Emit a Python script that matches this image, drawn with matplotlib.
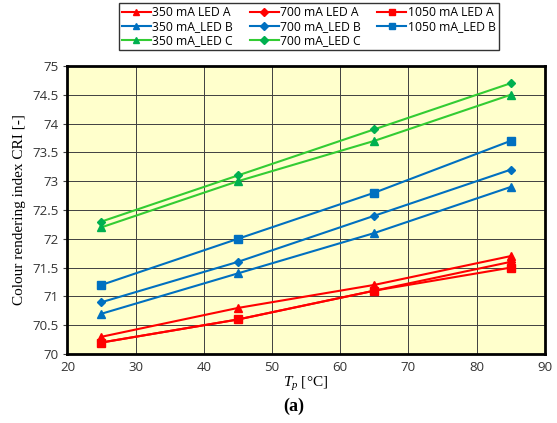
import matplotlib
matplotlib.use("Agg")
import matplotlib.pyplot as plt

matplotlib.rcParams["mathtext.fontset"] = "custom"
matplotlib.rcParams["mathtext.it"] = "Liberation Serif:italic"
matplotlib.rcParams["mathtext.rm"] = "Liberation Serif"

temps = [25, 45, 65, 85]
labels = ["350 mA LED A", "700 mA LED A", "1050 mA LED A",
          "350 mA_LED B", "700 mA_LED B", "1050 mA_LED B",
          "350 mA_LED C", "700 mA_LED C"]
led_a_350 = [70.3, 70.8, 71.2, 71.7]
led_a_700 = [70.2, 70.6, 71.1, 71.6]
led_a_1050 = [70.2, 70.6, 71.1, 71.5]
led_b_350 = [70.7, 71.4, 72.1, 72.9]
led_b_700 = [70.9, 71.6, 72.4, 73.2]
led_b_1050 = [71.2, 72.0, 72.8, 73.7]
led_c_350 = [72.2, 73.0, 73.7, 74.5]
led_c_700 = [72.3, 73.1, 73.9, 74.7]

series = [led_a_350, led_a_700, led_a_1050,
          led_b_350, led_b_700, led_b_1050,
          led_c_350, led_c_700]
line_colors = ["#FF0000"] * 3 + ["#0070C0"] * 3 + ["#33CC33"] * 2
marker_colors = ["#FF0000"] * 3 + ["#0070C0"] * 3 + ["#00B050"] * 2
markers = ["^", "D", "s", "^", "D", "s", "^", "D"]
msizes = [6, 4.5, 6, 6, 4.5, 6, 6, 4.5]

fig = plt.figure(figsize=(5.57, 4.23), dpi=100)
ax = fig.add_axes([0.121, 0.163, 0.857, 0.681])
ax.set_facecolor("#FFFFCC")

handles = []
for y, lab, lc, mc, m, ms in zip(series, labels, line_colors, marker_colors, markers, msizes):
    h, = ax.plot(temps, y, color=lc, lw=1.5, marker=m, markersize=ms,
                 markerfacecolor=mc, markeredgecolor=mc, label=lab)
    handles.append(h)

ax.set_xlim(20, 90)
ax.set_ylim(70, 75)
ax.set_xticks(range(20, 91, 10))
ax.set_yticks([70 + 0.5 * i for i in range(11)])
ax.set_yticklabels(["70", "70.5", "71", "71.5", "72", "72.5", "73", "73.5", "74", "74.5", "75"])
ax.grid(True, color="#404040", lw=0.7)
ax.set_axisbelow(True)
for s in ax.spines.values():
    s.set_linewidth(2)
    s.set_color("black")
ax.tick_params(axis="both", length=3, colors="#404040", labelcolor="#333333")
ax.tick_params(axis="x", length=0, pad=5)
for t in ax.get_xticklabels() + ax.get_yticklabels():
    t.set_family("Open Sans")
    t.set_fontsize(9.5)

ax.set_ylabel("Colour rendering index CRI [-]", family="Liberation Serif", fontsize=11)
ax.set_xlabel("$T_p$ [°C]", family="Liberation Serif", fontsize=11, labelpad=1)

fig.text(0.527, 0.02, "(a)", family="Liberation Serif", fontweight="bold",
         fontsize=13, ha="center", va="bottom")

order = [0, 3, 6, 1, 4, 7, 2, 5]
leg = fig.legend([handles[i] for i in order], [labels[i] for i in order],
                 loc="upper left", bbox_to_anchor=(0.213, 0.993), ncol=3,
                 prop={"family": "Open Sans", "size": 8.7}, frameon=True,
                 fancybox=False, edgecolor="black", handlelength=2.4,
                 handletextpad=0.1, columnspacing=1.4, borderpad=0.25,
                 labelspacing=0.1, markerscale=0.8, borderaxespad=0)
leg.get_frame().set_linewidth(1.0)

fig.savefig("out.png", dpi=100)
